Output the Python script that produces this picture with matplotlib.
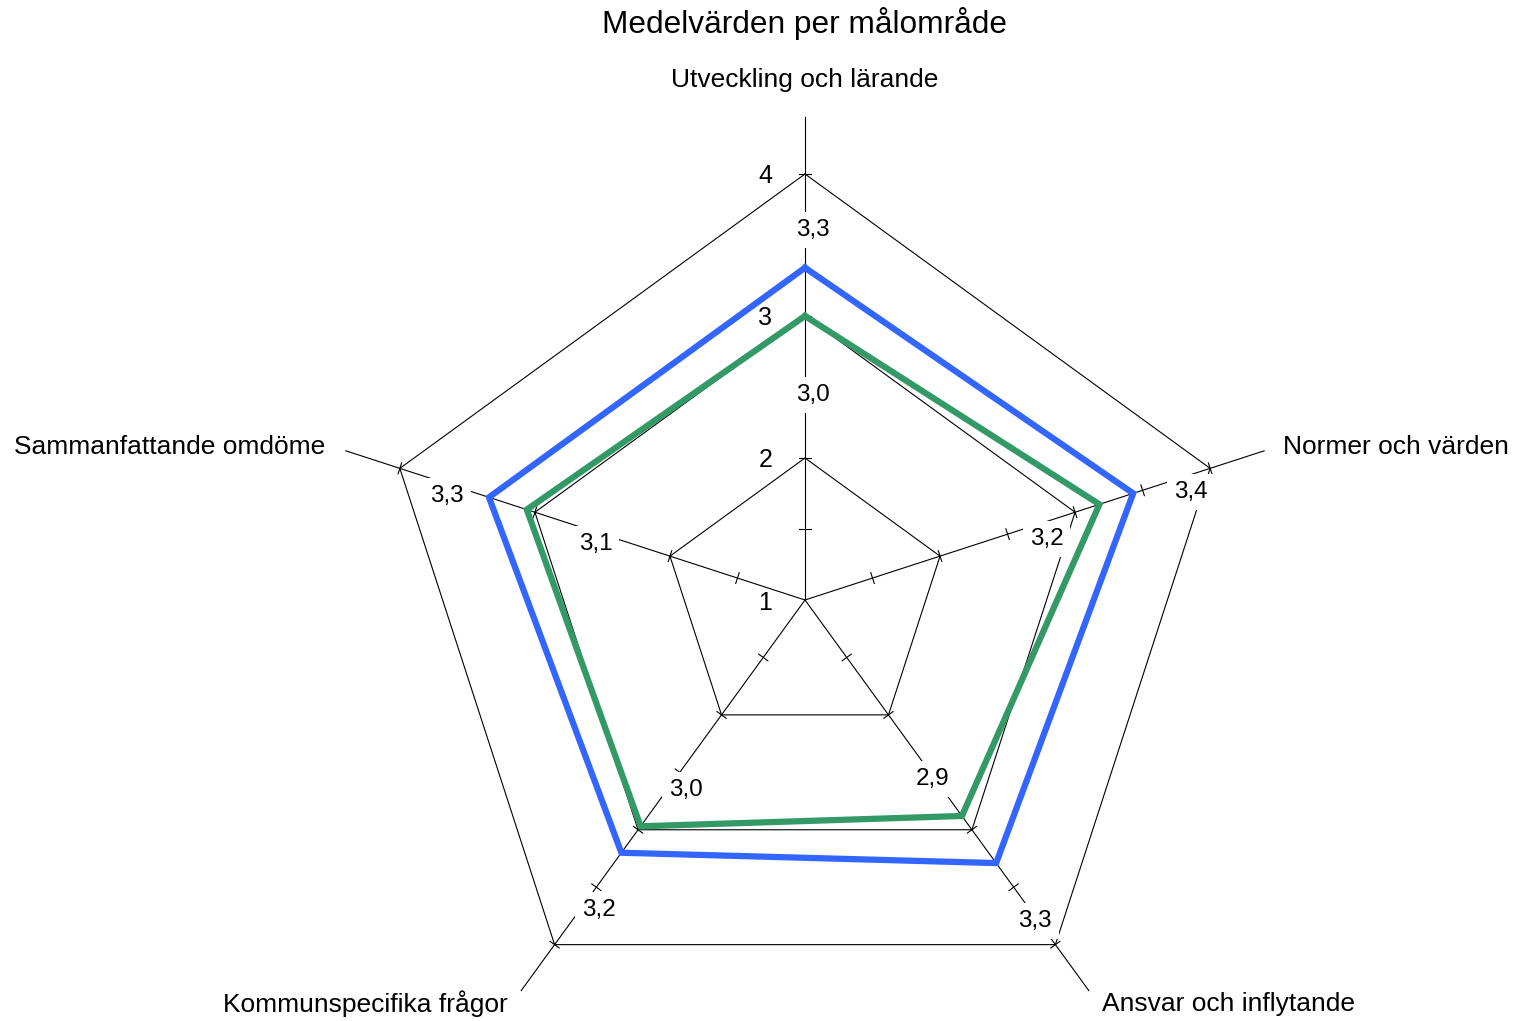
import numpy as np
import matplotlib
import matplotlib.pyplot as plt
matplotlib.use('Agg')

plt.rcParams['font.family'] = ['Liberation Sans', 'DejaVu Sans']

categories = ["Utveckling och lärande", "Normer och värden",
              "Ansvar och inflytande", "Kommunspecifika frågor",
              "Sammanfattande omdöme"]
blue_values = [3.34, 3.43, 3.29, 3.20, 3.34]
green_values = [3.00, 3.18, 2.88, 2.97, 3.06]
ring_values = [1, 2, 3, 4]
grid_rings = [2, 3, 4]
tick_values = [1.5, 2.0, 2.5, 3.0, 3.5, 4.0]

BLUE = "#3366ff"
GREEN = "#339966"
R_MIN = 1.0
R_MAX = 4.4


def to_xy(value, angle):
    r = value - R_MIN
    return r * np.cos(angle), r * np.sin(angle)


def fmt(v):
    return f"{v:.1f}".replace(".", ",")


def main():
    n = len(categories)
    angles = np.deg2rad(90 - 72 * np.arange(n))

    fig = plt.figure(figsize=(15.15, 10.21), dpi=100)
    ax = fig.add_axes([0, 0, 1, 1])
    ax.set_xlim(-805 / 142, (1515 - 805) / 142)
    ax.set_ylim(-421 / 142, 600 / 142)
    ax.set_aspect('equal')
    ax.axis('off')

    # axes spokes
    for a in angles:
        x, y = to_xy(R_MAX, a)
        ax.plot([0, x], [0, y], color='black', lw=0.8, zorder=1)
        # tick marks
        for t in tick_values:
            tx, ty = to_xy(t, a)
            px, py = -np.sin(a) * 0.04, np.cos(a) * 0.04
            ax.plot([tx - px, tx + px], [ty - py, ty + py],
                    color='black', lw=0.8, zorder=1)

    # pentagon grid
    for g in grid_rings:
        xs, ys = to_xy(g, np.append(angles, angles[0]))
        ax.plot(xs, ys, color='black', lw=0.8, zorder=1)

    # ring labels
    for rv in ring_values:
        ax.text(-0.23, rv - R_MIN, str(rv), ha='right', va='center_baseline',
                fontsize=18, zorder=3)

    # data polygons
    for vals, col in [(green_values, GREEN), (blue_values, BLUE)]:
        v = np.append(vals, vals[0])
        xs, ys = to_xy(v, np.append(angles, angles[0]))
        ax.plot(xs, ys, color=col, lw=4.5, zorder=4, solid_joinstyle='miter')

    # value labels
    box = dict(facecolor='white', edgecolor='none', pad=5)
    for vals, off in [(blue_values, 0.37), (green_values, -0.45)]:
        for v, a in zip(vals, angles):
            x, y = to_xy(v + off, a)
            ax.annotate(fmt(v), xy=(x, y), xytext=(8, -15),
                        textcoords='offset pixels', ha='center', va='center',
                        fontsize=17.5, bbox=box, zorder=3)

    # category labels
    offsets = [(0, 37), (19, 4), (13, -13), (-13, -13), (-21, 4)]
    aligns = [('center', 'center'), ('left', 'center'), ('left', 'center'),
              ('right', 'center'), ('right', 'center')]
    for cat, a, off, al in zip(categories, angles, offsets, aligns):
        x, y = to_xy(R_MAX, a)
        ax.annotate(cat, xy=(x, y), xytext=off, textcoords='offset pixels',
                    ha=al[0], va=al[1], fontsize=19)

    fig.text(805 / 1515, 1 - 23 / 1021, "Medelvärden per målområde",
             ha='center', va='center', fontsize=22.8)

    fig.savefig("out.png", dpi=100)


if __name__ == "__main__":
    main()
